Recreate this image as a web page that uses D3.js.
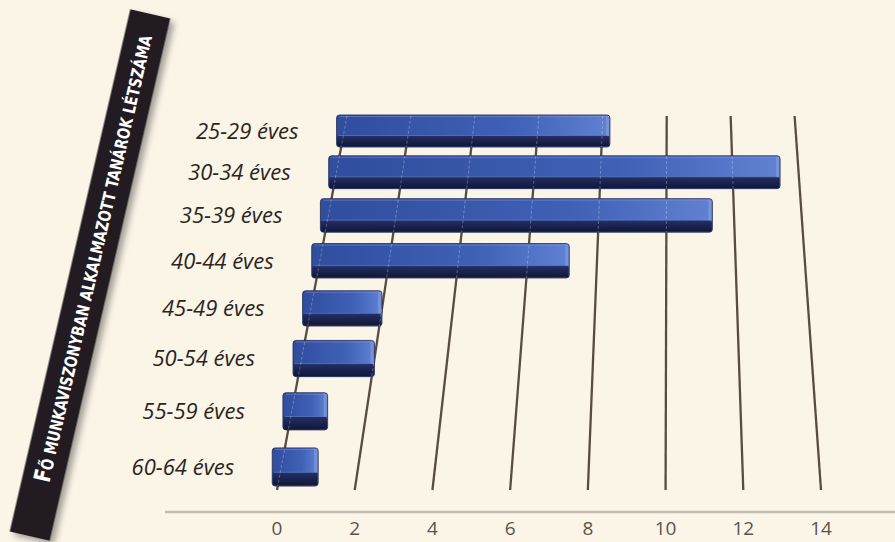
<!DOCTYPE html>
<html>
<head>
<meta charset="utf-8">
<script src="https://cdn.jsdelivr.net/npm/d3@7"></script>
<style>
  html, body { margin: 0; padding: 0; background: #fbf5e8; }
  svg { display: block; }
</style>
</head>
<body>
<svg id="chart"></svg>
<script>
// age groups and number of teachers (Fő)
let ageGroups = ["25-29 éves", "30-34 éves", "35-39 éves", "40-44 éves",
                 "45-49 éves", "50-54 éves", "55-59 éves", "60-64 éves"]
let headcount = [8, 13, 11, 7, 2, 2, 1, 1]
let tickValues = [0, 2, 4, 6, 8, 10, 12, 14]
let titleLead = "F"
let titleRest = "Ő MUNKAVISZONYBAN ALKALMAZOTT TANÁROK LÉTSZÁMA"

let W = 895, H = 542

let svg = d3.select('#chart').attr('width', W).attr('height', H)

svg.append('rect').attr('width', W).attr('height', H).attr('fill', '#fbf5e8')

let defs = svg.append('defs')

let sh = defs.append('filter').attr('id', 'shadow')
    .attr('x', '-50%').attr('y', '-10%').attr('width', '200%').attr('height', '120%')
sh.append('feDropShadow').attr('dx', 5).attr('dy', 3).attr('stdDeviation', 3)
    .attr('flood-color', '#000').attr('flood-opacity', 0.35)

let gFace = defs.append('linearGradient').attr('id', 'face')
gFace.append('stop').attr('offset', '0%').attr('stop-color', '#304d9e')
gFace.append('stop').attr('offset', '65%').attr('stop-color', '#3f61b6')
gFace.append('stop').attr('offset', '100%').attr('stop-color', '#6182d2')

let gDark = defs.append('linearGradient').attr('id', 'dark')
    .attr('x1', 0).attr('y1', 0).attr('x2', 0).attr('y2', 1)
gDark.append('stop').attr('offset', '0%').attr('stop-color', '#243068')
gDark.append('stop').attr('offset', '100%').attr('stop-color', '#111736')

// perspective: gridlines run towards a vanishing point far above the chart
let vp = { x: 672, y: -1621 }
let refY = 490, topY = 116
let x = d3.scaleLinear().domain([0, 14]).range([277, 821])   // on the front edge (y = refY)
function px(v, y) {
  return vp.x + (x(v) - vp.x) * (y - vp.y) / (refY - vp.y)
}

// rows are equally spaced in depth
let depth = d3.scaleLinear().domain([0, ageGroups.length - 1]).range([1 / 1752, 1 / 2088])
let rowY = i => vp.y + 1 / depth(i)

// base line
svg.append('line')
    .attr('x1', 165).attr('x2', W).attr('y1', 512).attr('y2', 512)
    .attr('stroke', '#c3bdb3').attr('stroke-width', 2.5)

// gridlines
svg.append('g').selectAll('line')
    .data(tickValues)
    .enter().append('line')
    .attr('x1', d => px(d, topY)).attr('y1', topY)
    .attr('x2', d => px(d, refY)).attr('y2', refY)
    .attr('stroke', '#584c43').attr('stroke-width', 2.3)

// tick labels
svg.append('g').selectAll('text')
    .data(tickValues)
    .enter().append('text')
    .attr('x', d => px(d, refY)).attr('y', 535)
    .attr('text-anchor', 'middle')
    .attr('font-family', '"Open Sans", sans-serif').attr('font-size', 19)
    .attr('fill', '#5c534b')
    .text(d => d)

let rows = ageGroups.map((g, i) => {
  let cy = rowY(i)
  let h = 0.0183 * (cy - vp.y)
  let front = v => px(2 + (v - 2) * 1.04, cy)
  return { g: g, v: headcount[i], cy: cy, h: h, top: cy - h / 2, x0: front(-0.15), x1: front(headcount[i]) }
})

// clip path to let gridlines show faintly through the bars
let clip = defs.append('clipPath').attr('id', 'barclip')
clip.selectAll('rect').data(rows).enter().append('rect')
    .attr('x', d => d.x0).attr('y', d => d.top)
    .attr('width', d => d.x1 - d.x0).attr('height', d => d.h)

let bar = svg.append('g').selectAll('g')
    .data(rows)
    .enter().append('g')

bar.append('rect')
    .attr('x', d => d.x0).attr('y', d => d.top)
    .attr('width', d => d.x1 - d.x0).attr('height', d => d.h)
    .attr('rx', 3)
    .attr('fill', 'url(#face)')
    .attr('stroke', '#1d2755').attr('stroke-width', 0.8)

bar.append('rect')
    .attr('x', d => d.x0 + 0.5).attr('y', d => d.top + d.h * 0.64)
    .attr('width', d => d.x1 - d.x0 - 1).attr('height', d => d.h * 0.36 - 0.5)
    .attr('rx', 2)
    .attr('fill', 'url(#dark)')

bar.append('line')
    .attr('x1', d => d.x0 + 2).attr('x2', d => d.x1 - 2)
    .attr('y1', d => d.top + d.h * 0.64).attr('y2', d => d.top + d.h * 0.64)
    .attr('stroke', '#6a86cf').attr('stroke-width', 1).attr('opacity', 0.6)

bar.append('line')
    .attr('x1', d => d.x0 + 3).attr('x2', d => d.x1 - 3)
    .attr('y1', d => d.top + 1.5).attr('y2', d => d.top + 1.5)
    .attr('stroke', '#8098da').attr('stroke-width', 1).attr('opacity', 0.5)

// right end bevel
bar.append('rect')
    .attr('x', d => d.x1 - 4).attr('y', d => d.top + 1)
    .attr('width', 3).attr('height', d => d.h * 0.62)
    .attr('fill', '#93a8e4').attr('opacity', 0.45)

svg.append('g').attr('clip-path', 'url(#barclip)')
    .selectAll('line')
    .data(tickValues)
    .enter().append('line')
    .attr('x1', d => px(d, topY)).attr('y1', topY)
    .attr('x2', d => px(d, refY)).attr('y2', refY)
    .attr('stroke', '#ffffff').attr('stroke-opacity', 0.28)
    .attr('stroke-width', 1).attr('stroke-dasharray', '3,2')

// category labels
svg.append('g').selectAll('text')
    .data(rows)
    .enter().append('text')
    .attr('x', d => d.x0 - 38).attr('y', d => d.cy)
    .attr('dy', '0.36em')
    .attr('text-anchor', 'end')
    .attr('font-family', '"Open Sans", sans-serif').attr('font-style', 'italic')
    .attr('font-size', 22).attr('fill', '#2a2521')
    .text(d => d.g)

// black title band
let band = svg.append('g').attr('transform', 'translate(90,275) rotate(13)')
band.append('rect')
    .attr('x', -20.5).attr('y', -268).attr('width', 41).attr('height', 536)
    .attr('fill', '#231f20').attr('filter', 'url(#shadow)')

let title = band.append('text')
    .attr('transform', 'translate(7,212) rotate(-90)')
    .attr('font-family', '"Liberation Sans Narrow", "DejaVu Sans Condensed", sans-serif')
    .attr('font-weight', 'bold').attr('fill', '#ffffff')
    .attr('textLength', 458).attr('lengthAdjust', 'spacingAndGlyphs')
title.append('tspan').attr('font-size', 23).text(titleLead)
title.append('tspan').attr('font-size', 17).text(titleRest)
</script>
</body>
</html>
